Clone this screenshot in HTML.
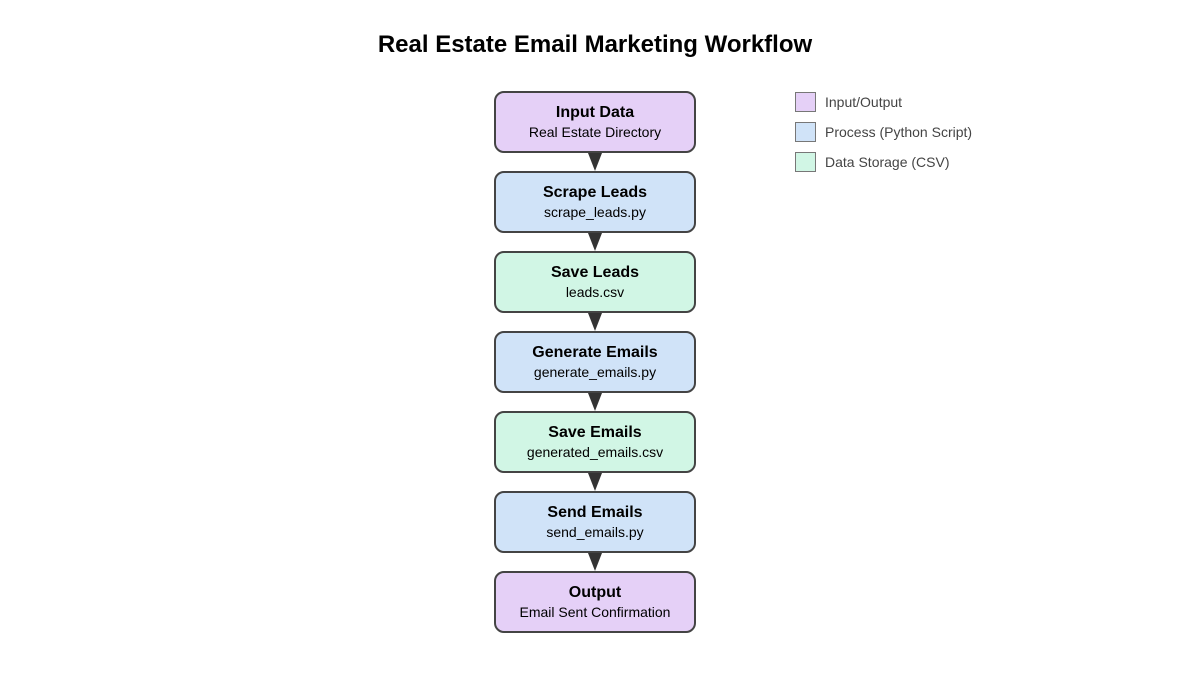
<!DOCTYPE html>
<html><head><style>
body{margin:0;width:1187px;height:669px;background:#fff;font-family:"Liberation Sans",sans-serif;}
</style></head><body>
<svg width="1187" height="669" xmlns="http://www.w3.org/2000/svg" font-family="Liberation Sans, sans-serif">
<text x="595" y="52" text-anchor="middle" font-size="24" font-weight="bold" fill="#000">Real Estate Email Marketing Workflow</text>
<g stroke="#444" stroke-width="2">
<rect x="495" y="92" width="200" height="60" rx="9" fill="#e5d0f7"/>
<rect x="495" y="172" width="200" height="60" rx="9" fill="#d0e3f8"/>
<rect x="495" y="252" width="200" height="60" rx="9" fill="#d1f6e5"/>
<rect x="495" y="332" width="200" height="60" rx="9" fill="#d0e3f8"/>
<rect x="495" y="412" width="200" height="60" rx="9" fill="#d1f6e5"/>
<rect x="495" y="492" width="200" height="60" rx="9" fill="#d0e3f8"/>
<rect x="495" y="572" width="200" height="60" rx="9" fill="#e5d0f7"/>
</g>
<g fill="#333">
<polygon points="588,153 602,153 595,171"/>
<polygon points="588,233 602,233 595,251"/>
<polygon points="588,313 602,313 595,331"/>
<polygon points="588,393 602,393 595,411"/>
<polygon points="588,473 602,473 595,491"/>
<polygon points="588,553 602,553 595,571"/>
</g>
<g text-anchor="middle" fill="#000">
<text x="595" y="117" font-size="16" font-weight="bold">Input Data</text><text x="595" y="137" font-size="14">Real Estate Directory</text>
<text x="595" y="197" font-size="16" font-weight="bold">Scrape Leads</text><text x="595" y="217" font-size="14">scrape_leads.py</text>
<text x="595" y="277" font-size="16" font-weight="bold">Save Leads</text><text x="595" y="297" font-size="14">leads.csv</text>
<text x="595" y="357" font-size="16" font-weight="bold">Generate Emails</text><text x="595" y="377" font-size="14">generate_emails.py</text>
<text x="595" y="437" font-size="16" font-weight="bold">Save Emails</text><text x="595" y="457" font-size="14">generated_emails.csv</text>
<text x="595" y="517" font-size="16" font-weight="bold">Send Emails</text><text x="595" y="537" font-size="14">send_emails.py</text>
<text x="595" y="597" font-size="16" font-weight="bold">Output</text><text x="595" y="617" font-size="14">Email Sent Confirmation</text>
</g>
<g stroke="#777" stroke-width="1">
<rect x="795.5" y="92.5" width="20" height="19" fill="#e5d0f7"/>
<rect x="795.5" y="122.5" width="20" height="19" fill="#d0e3f8"/>
<rect x="795.5" y="152.5" width="20" height="19" fill="#d1f6e5"/>
</g>
<g font-size="14" fill="#444">
<text x="825" y="107">Input/Output</text>
<text x="825" y="137">Process (Python Script)</text>
<text x="825" y="167">Data Storage (CSV)</text>
</g>
</svg>
</body></html>
